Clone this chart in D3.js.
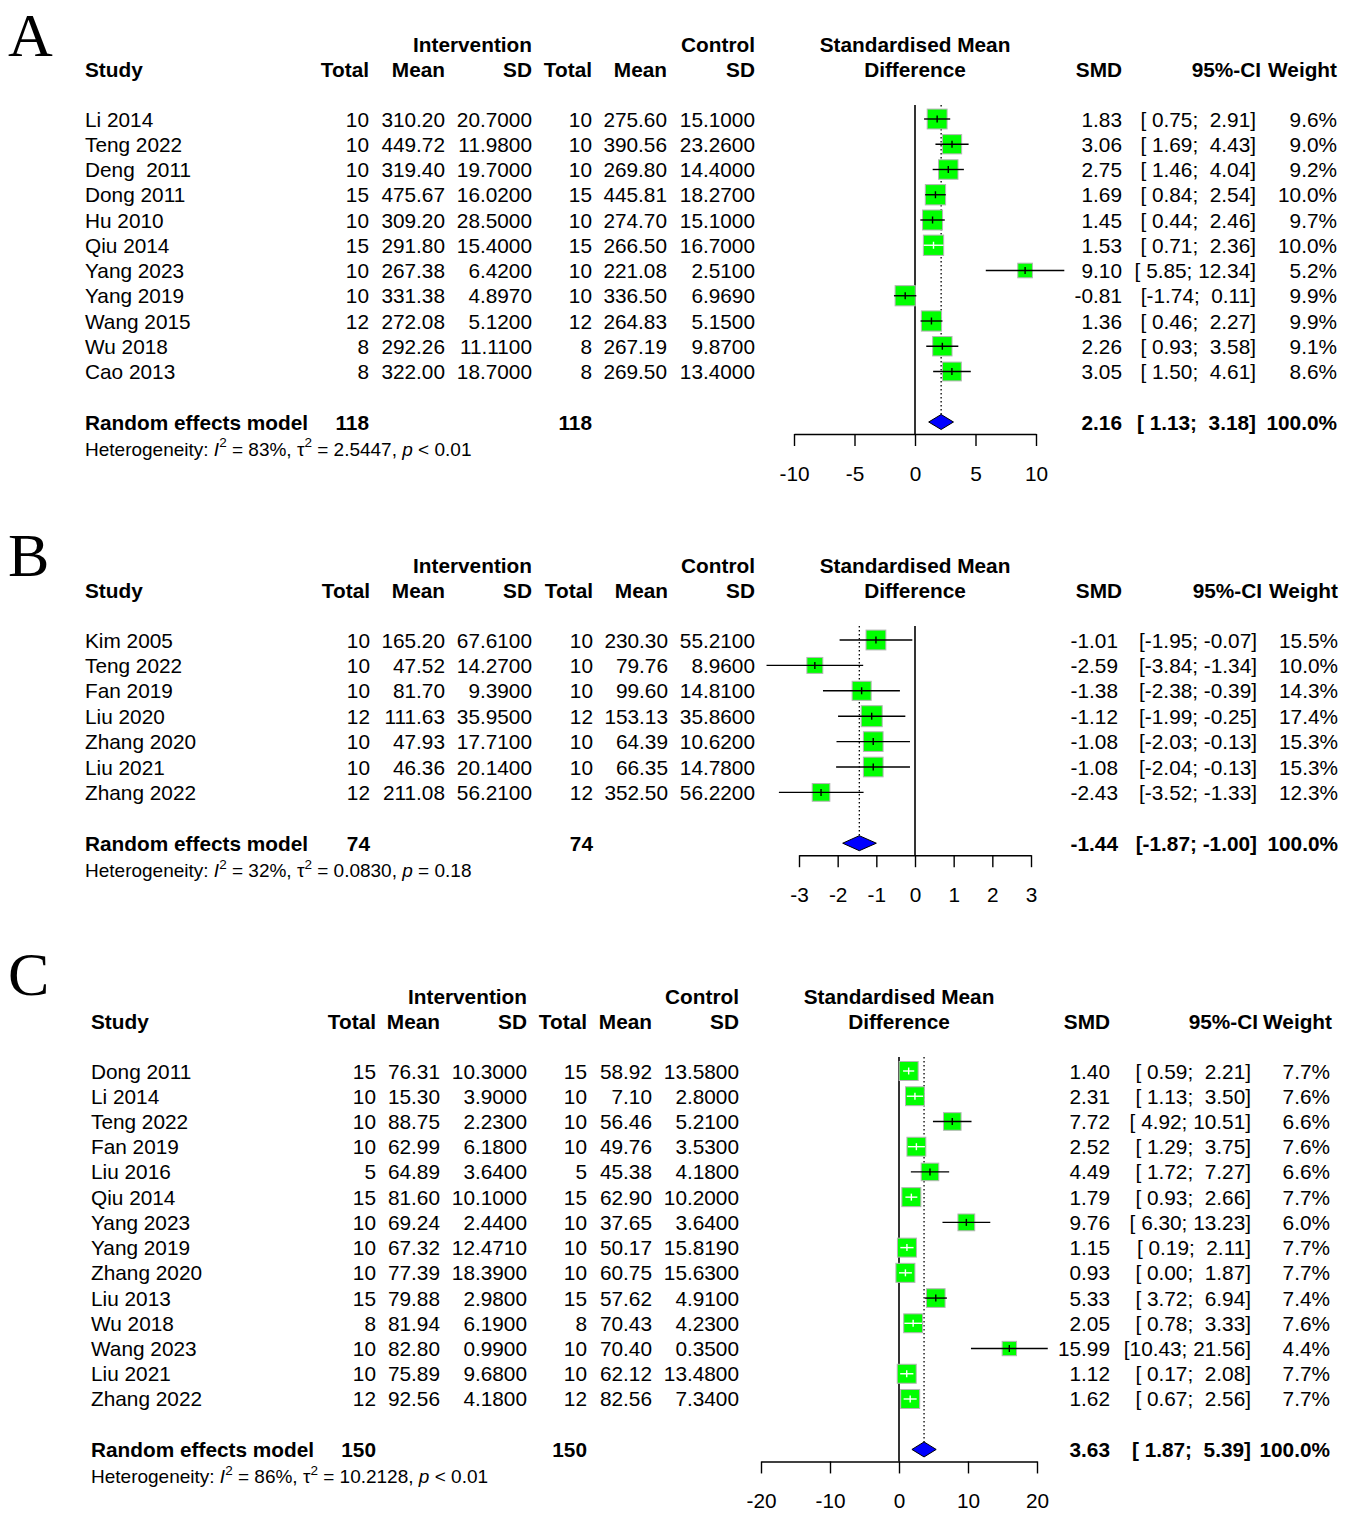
<!DOCTYPE html>
<html>
<head>
<meta charset="utf-8">
<script src="https://cdn.jsdelivr.net/npm/d3@7"></script>
<style>
  body { margin: 0; background: #fff; }
  text { font-family: "Liberation Sans", Arial, sans-serif; white-space: pre; fill: #000; }
</style>
</head>
<body>
<div id="chart"></div>
<script>
// ---- Panel A data ----
const studiesA = ["Li 2014", "Teng 2022", "Deng  2011", "Dong 2011", "Hu 2010", "Qiu 2014", "Yang 2023", "Yang 2019", "Wang 2015", "Wu 2018", "Cao 2013"];
const nIntA    = [10, 10, 10, 15, 10, 15, 10, 10, 12, 8, 8];
const meanIntA = [310.20, 449.72, 319.40, 475.67, 309.20, 291.80, 267.38, 331.38, 272.08, 292.26, 322.00];
const sdIntA   = [20.7, 11.98, 19.7, 16.02, 28.5, 15.4, 6.42, 4.897, 5.12, 11.11, 18.7];
const nCtlA    = [10, 10, 10, 15, 10, 15, 10, 10, 12, 8, 8];
const meanCtlA = [275.60, 390.56, 269.80, 445.81, 274.70, 266.50, 221.08, 336.50, 264.83, 267.19, 269.50];
const sdCtlA   = [15.1, 23.26, 14.4, 18.27, 15.1, 16.7, 2.51, 6.969, 5.15, 9.87, 13.4];
const smdA     = [1.83, 3.06, 2.75, 1.69, 1.45, 1.53, 9.10, -0.81, 1.36, 2.26, 3.05];
const lowerA   = [0.75, 1.69, 1.46, 0.84, 0.44, 0.71, 5.85, -1.74, 0.46, 0.93, 1.50];
const upperA   = [2.91, 4.43, 4.04, 2.54, 2.46, 2.36, 12.34, 0.11, 2.27, 3.58, 4.61];
const weightA  = [9.6, 9.0, 9.2, 10.0, 9.7, 10.0, 5.2, 9.9, 9.9, 9.1, 8.6];
const pooledA  = [2.16, 1.13, 3.18];
const totalsA  = [118, 118];
const hetA     = ["83%", "2.5447", "< 0.01"];
const ticksA   = [-10, -5, 0, 5, 10];

// ---- Panel B data ----
const studiesB = ["Kim 2005", "Teng 2022", "Fan 2019", "Liu 2020", "Zhang 2020", "Liu 2021", "Zhang 2022"];
const nIntB    = [10, 10, 10, 12, 10, 10, 12];
const meanIntB = [165.20, 47.52, 81.70, 111.63, 47.93, 46.36, 211.08];
const sdIntB   = [67.61, 14.27, 9.39, 35.95, 17.71, 20.14, 56.21];
const nCtlB    = [10, 10, 10, 12, 10, 10, 12];
const meanCtlB = [230.30, 79.76, 99.60, 153.13, 64.39, 66.35, 352.50];
const sdCtlB   = [55.21, 8.96, 14.81, 35.86, 10.62, 14.78, 56.22];
const smdB     = [-1.01, -2.59, -1.38, -1.12, -1.08, -1.08, -2.43];
const lowerB   = [-1.95, -3.84, -2.38, -1.99, -2.03, -2.04, -3.52];
const upperB   = [-0.07, -1.34, -0.39, -0.25, -0.13, -0.13, -1.33];
const weightB  = [15.5, 10.0, 14.3, 17.4, 15.3, 15.3, 12.3];
const pooledB  = [-1.44, -1.87, -1.00];
const totalsB  = [74, 74];
const hetB     = ["32%", "0.0830", "= 0.18"];
const ticksB   = [-3, -2, -1, 0, 1, 2, 3];

// ---- Panel C data ----
const studiesC = ["Dong 2011", "Li 2014", "Teng 2022", "Fan 2019", "Liu 2016", "Qiu 2014", "Yang 2023", "Yang 2019", "Zhang 2020", "Liu 2013", "Wu 2018", "Wang 2023", "Liu 2021", "Zhang 2022"];
const nIntC    = [15, 10, 10, 10, 5, 15, 10, 10, 10, 15, 8, 10, 10, 12];
const meanIntC = [76.31, 15.30, 88.75, 62.99, 64.89, 81.60, 69.24, 67.32, 77.39, 79.88, 81.94, 82.80, 75.89, 92.56];
const sdIntC   = [10.3, 3.9, 2.23, 6.18, 3.64, 10.1, 2.44, 12.471, 18.39, 2.98, 6.19, 0.99, 9.68, 4.18];
const nCtlC    = [15, 10, 10, 10, 5, 15, 10, 10, 10, 15, 8, 10, 10, 12];
const meanCtlC = [58.92, 7.10, 56.46, 49.76, 45.38, 62.90, 37.65, 50.17, 60.75, 57.62, 70.43, 70.40, 62.12, 82.56];
const sdCtlC   = [13.58, 2.8, 5.21, 3.53, 4.18, 10.2, 3.64, 15.819, 15.63, 4.91, 4.23, 0.35, 13.48, 7.34];
const smdC     = [1.40, 2.31, 7.72, 2.52, 4.49, 1.79, 9.76, 1.15, 0.93, 5.33, 2.05, 15.99, 1.12, 1.62];
const lowerC   = [0.59, 1.13, 4.92, 1.29, 1.72, 0.93, 6.30, 0.19, 0.00, 3.72, 0.78, 10.43, 0.17, 0.67];
const upperC   = [2.21, 3.50, 10.51, 3.75, 7.27, 2.66, 13.23, 2.11, 1.87, 6.94, 3.33, 21.56, 2.08, 2.56];
const weightC  = [7.7, 7.6, 6.6, 7.6, 6.6, 7.7, 6.0, 7.7, 7.7, 7.4, 7.6, 4.4, 7.7, 7.7];
const pooledC  = [3.63, 1.87, 5.39];
const totalsC  = [150, 150];
const hetC     = ["86%", "10.2128", "< 0.01"];
const ticksC   = [-20, -10, 0, 10, 20];

const loc = d3.formatLocale({decimal: ".", thousands: ",", grouping: [3], currency: ["", ""], minus: "-"});
const f2 = loc.format(".2f"), f4 = loc.format(".4f"), f1 = loc.format(".1f"), fInt = loc.format("d");

const FS = 20.8;          // main font size
const BASE = 7.5;         // center -> baseline offset

const panels = [
  { letter: "A", letterY: 56, studyX: 85, h1: 44, h2: 69, y0: 119, step: 25.25,
    cols: {totI: 369, meanI: 445, sdI: 532, totC: 592, meanC: 667, sdC: 755, smd: 1122, smdHead: 1122, ci: 1256, ciHead: 1261, wt: 1337, wtHead: 1337},
    xRange: [794, 1036], boxMax: 20.3,
    d: {studies: studiesA, nI: nIntA, mI: meanIntA, sI: sdIntA, nC: nCtlA, mC: meanCtlA, sC: sdCtlA,
        smd: smdA, lo: lowerA, hi: upperA, w: weightA, pooled: pooledA, totals: totalsA, het: hetA, ticks: ticksA} },
  { letter: "B", letterY: 576, studyX: 85, h1: 565, h2: 590, y0: 640, step: 25.4,
    cols: {totI: 370, meanI: 445, sdI: 532, totC: 593, meanC: 668, sdC: 755, smd: 1118, smdHead: 1122, ci: 1257, ciHead: 1262, wt: 1338, wtHead: 1338},
    xRange: [799, 1031], boxMax: 21,
    d: {studies: studiesB, nI: nIntB, mI: meanIntB, sI: sdIntB, nC: nCtlB, mC: meanCtlB, sC: sdCtlB,
        smd: smdB, lo: lowerB, hi: upperB, w: weightB, pooled: pooledB, totals: totalsB, het: hetB, ticks: ticksB} },
  { letter: "C", letterY: 995, studyX: 91, h1: 996, h2: 1021, y0: 1071, step: 25.23,
    cols: {totI: 376, meanI: 440, sdI: 527, totC: 587, meanC: 652, sdC: 739, smd: 1110, smdHead: 1110, ci: 1251, ciHead: 1258, wt: 1330, wtHead: 1332},
    xRange: [761, 1037], boxMax: 19,
    d: {studies: studiesC, nI: nIntC, mI: meanIntC, sI: sdIntC, nC: nCtlC, mC: meanCtlC, sC: sdCtlC,
        smd: smdC, lo: lowerC, hi: upperC, w: weightC, pooled: pooledC, totals: totalsC, het: hetC, ticks: ticksC} }
];

const svg = d3.select("#chart").append("svg")
    .attr("width", 1354)
    .attr("height", 1514)
    .style("display", "block");

function txt(g, x, y, s, anchor, bold, size) {
  return g.append("text")
    .attr("x", x)
    .attr("y", y + BASE * (size || FS) / FS)
    .attr("text-anchor", anchor || "start")
    .attr("font-size", size || FS)
    .attr("font-weight", bold ? "bold" : null)
    .text(s);
}

panels.forEach(p => {
  const g = svg.append("g");
  const d = p.d, c = p.cols;
  const n = d.studies.length;
  const rowY = i => p.y0 + i * p.step;
  const reY = rowY(n + 1);
  const x = d3.scaleLinear().domain(d3.extent(d.ticks)).range(p.xRange);
  const xMid = (p.xRange[0] + p.xRange[1]) / 2;

  // panel letter
  g.append("text")
    .attr("x", 8).attr("y", p.letterY)
    .attr("font-size", 62)
    .style("font-family", "'Liberation Serif', 'Times New Roman', serif")
    .text(p.letter);

  // headers
  txt(g, c.sdI, p.h1, "Intervention", "end", true);
  txt(g, c.sdC, p.h1, "Control", "end", true);
  txt(g, xMid, p.h1, "Standardised Mean", "middle", true);
  txt(g, xMid, p.h2, "Difference", "middle", true);
  txt(g, p.studyX, p.h2, "Study", "start", true);
  txt(g, c.totI, p.h2, "Total", "end", true);
  txt(g, c.meanI, p.h2, "Mean", "end", true);
  txt(g, c.sdI, p.h2, "SD", "end", true);
  txt(g, c.totC, p.h2, "Total", "end", true);
  txt(g, c.meanC, p.h2, "Mean", "end", true);
  txt(g, c.sdC, p.h2, "SD", "end", true);
  txt(g, c.smdHead, p.h2, "SMD", "end", true);
  txt(g, c.ciHead, p.h2, "95%-CI", "end", true);
  txt(g, c.wtHead, p.h2, "Weight", "end", true);

  // CI strings padded like meta
  const loS = d.lo.concat([d.pooled[1]]).map(f2), hiS = d.hi.concat([d.pooled[2]]).map(f2);
  const padL = d3.max(loS, s => s.length), padU = d3.max(hiS, s => s.length);
  const ciStr = (l, u) => "[" + f2(l).padStart(padL) + "; " + f2(u).padStart(padU) + "]";

  // study rows
  d.studies.forEach((s, i) => {
    const y = rowY(i);
    txt(g, p.studyX, y, s);
    txt(g, c.totI, y, fInt(d.nI[i]), "end");
    txt(g, c.meanI, y, f2(d.mI[i]), "end");
    txt(g, c.sdI, y, f4(d.sI[i]), "end");
    txt(g, c.totC, y, fInt(d.nC[i]), "end");
    txt(g, c.meanC, y, f2(d.mC[i]), "end");
    txt(g, c.sdC, y, f4(d.sC[i]), "end");
    txt(g, c.smd, y, f2(d.smd[i]), "end");
    txt(g, c.ci, y, ciStr(d.lo[i], d.hi[i]), "end");
    txt(g, c.wt, y, f1(d.w[i]) + "%", "end");
  });

  // pooled row
  txt(g, p.studyX, reY, "Random effects model", "start", true);
  txt(g, c.totI, reY, fInt(d.totals[0]), "end", true);
  txt(g, c.totC, reY, fInt(d.totals[1]), "end", true);
  txt(g, c.smd, reY, f2(d.pooled[0]), "end", true);
  txt(g, c.ci, reY, ciStr(d.pooled[1], d.pooled[2]), "end", true);
  txt(g, c.wt, reY, "100.0%", "end", true);

  // heterogeneity line
  const hs = 19;
  const het = g.append("text")
    .attr("x", p.studyX)
    .attr("y", reY + 27 + 6.8)
    .attr("font-size", hs);
  het.append("tspan").text("Heterogeneity: ");
  het.append("tspan").attr("font-style", "italic").text("I");
  het.append("tspan").attr("font-size", 13.5).attr("dy", -8.5).text("2");
  het.append("tspan").attr("dy", 8.5).text(" = " + d.het[0] + ", \u03c4");
  het.append("tspan").attr("font-size", 13.5).attr("dy", -8.5).text("2");
  het.append("tspan").attr("dy", 8.5).text(" = " + d.het[1] + ", ");
  het.append("tspan").attr("font-style", "italic").text("p");
  het.append("tspan").text(" " + d.het[2]);

  // reference lines
  const topY = p.y0 - 14, axisY = reY + 12;
  g.append("line")
    .attr("x1", x(d.pooled[0])).attr("x2", x(d.pooled[0]))
    .attr("y1", topY).attr("y2", reY)
    .attr("stroke", "#000").attr("stroke-width", 1.3)
    .attr("stroke-dasharray", "1.5,2.5");
  g.append("line")
    .attr("x1", x(0)).attr("x2", x(0))
    .attr("y1", topY).attr("y2", axisY)
    .attr("stroke", "#000").attr("stroke-width", 1.6);

  // study squares and CIs
  const wMax = d3.max(d.w);
  d.studies.forEach((s, i) => {
    const y = rowY(i);
    const cx = x(d.smd[i]);
    const b = p.boxMax * Math.sqrt(d.w[i] / wMax);
    const xl = x(d.lo[i]), xu = x(d.hi[i]);
    const inside = xl >= cx - b / 2 && xu <= cx + b / 2;
    const col = inside ? "#fff" : "#000";
    g.append("rect")
      .attr("x", cx - b / 2).attr("y", y - b / 2)
      .attr("width", b).attr("height", b)
      .attr("fill", "#00ff00")
      .attr("stroke", "#b5b5b5").attr("stroke-width", 1);
    g.append("line")
      .attr("x1", xl).attr("x2", xu)
      .attr("y1", y).attr("y2", y)
      .attr("stroke", col).attr("stroke-width", 1.4);
    g.append("line")
      .attr("x1", cx).attr("x2", cx)
      .attr("y1", y - 3.5).attr("y2", y + 3.5)
      .attr("stroke", col).attr("stroke-width", 1.4);
  });

  // pooled diamond
  const dh = 7.5;
  g.append("polygon")
    .attr("points", [[x(d.pooled[1]), reY], [x(d.pooled[0]), reY - dh], [x(d.pooled[2]), reY], [x(d.pooled[0]), reY + dh]].join(" "))
    .attr("fill", "#0000ff")
    .attr("stroke", "#000").attr("stroke-width", 1);

  // axis
  const ax = g.append("g")
    .attr("transform", `translate(0,${axisY})`)
    .call(d3.axisBottom(x).tickValues(d.ticks).tickSize(12).tickSizeOuter(0).tickFormat(fInt));
  ax.select(".domain").attr("stroke", "#000").attr("stroke-width", 1.4);
  ax.selectAll(".tick line").attr("stroke", "#000").attr("stroke-width", 1.4);
  ax.selectAll(".tick text")
    .attr("y", 39 + BASE).attr("dy", null)
    .attr("font-size", FS)
    .attr("font-family", null);
});
</script>
</body>
</html>
